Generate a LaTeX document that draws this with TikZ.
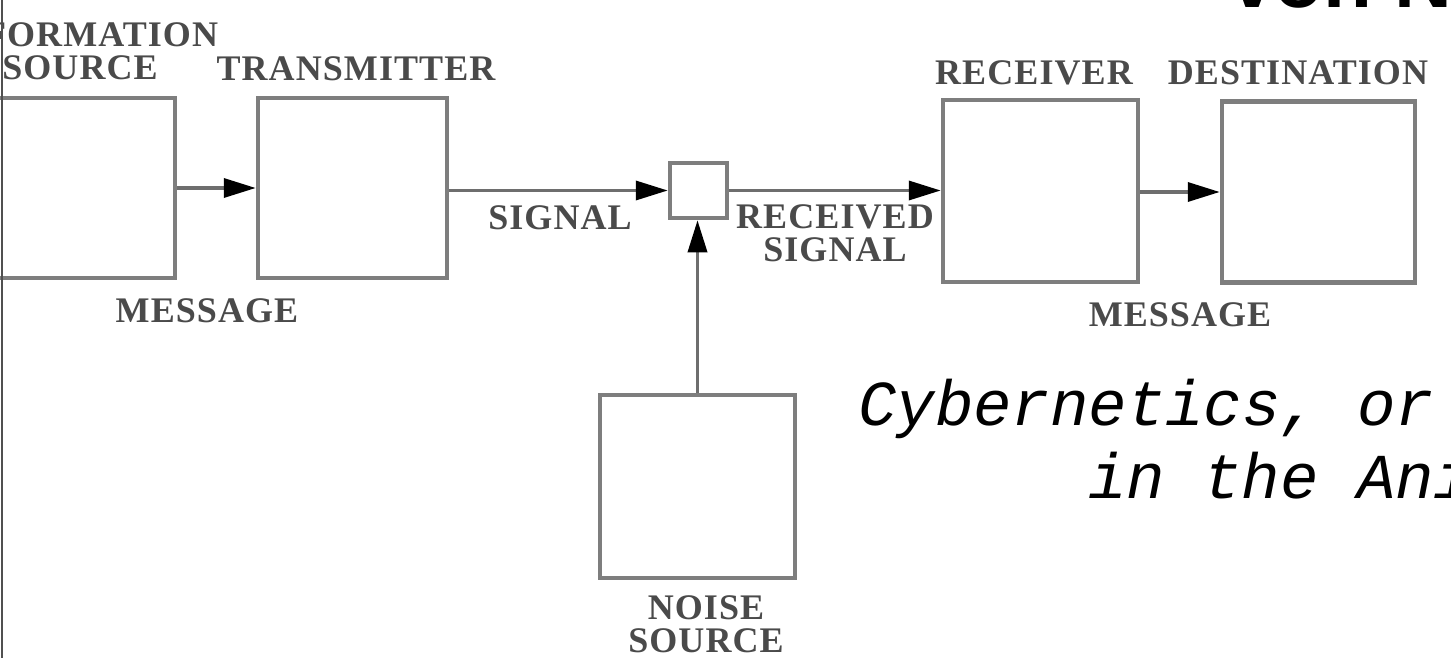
\documentclass[tikz,border=0pt]{standalone}
\usepackage{fontspec}
\setmainfont{Liberation Serif}
\newfontfamily\capfont[LetterSpace=3]{Liberation Serif}
\newfontfamily\monofont{Liberation Mono}
\newfontfamily\headfont{Liberation Sans}
\usetikzlibrary{arrows.meta}

\definecolor{boxgray}{HTML}{7E7E7E}
\definecolor{linegray}{HTML}{6E6E6E}
\definecolor{labelgray}{HTML}{4A4A4A}
\definecolor{framegray}{HTML}{505050}

\tikzset{
  block/.style={draw=boxgray, line width=4.5pt, inner sep=0pt, fill=white},
  conn/.style={draw=linegray, line width=3.5pt,
    -{Triangle[length=32pt, width=19pt, color=black]}},
  lbl/.style={text=labelgray, inner sep=0pt, align=center,
    font={\capfont\bfseries\fontsize{36}{33}\selectfont}},
  caption/.style={anchor=base west, inner sep=0pt,
    font={\monofont\itshape\fontsize{64}{64}\selectfont}},
}

\begin{document}
\begin{tikzpicture}[x=1pt, y=-1pt]
  \useasboundingbox (0,0) rectangle (1451,658);
  \fill[white] (0,0) rectangle (1451,658);

  % heading, mostly above the page
  \node[anchor=base west, inner sep=0pt,
        font={\headfont\bfseries\fontsize{80}{80}\selectfont}]
        (head) at (1230,8) {von Neumann};

  % blocks
  \node[block, minimum width=190pt, minimum height=180pt] (src)   at (80,188) {};
  \node[block, minimum width=189pt, minimum height=180pt] (tx)    at (352.5,188) {};
  \node[block, minimum width=57pt,  minimum height=55pt]  (mix)   at (698.5,190.5) {};
  \node[block, minimum width=195pt, minimum height=182pt] (rx)    at (1040.5,191) {};
  \node[block, minimum width=193pt, minimum height=181pt] (dst)   at (1318.5,192) {};
  \node[block, minimum width=195pt, minimum height=183pt] (noise) at (697.5,486.5) {};

  % connectors
  \draw[conn] (src.east) -- (tx.west);
  \draw[conn] (tx.east |- mix.west) -- (mix.west);
  \draw[conn] (mix.east) -- (rx.west |- mix.east);
  \draw[conn] (rx.east |- dst.west) -- (dst.west);
  \draw[conn] (noise.north) -- (noise.north |- mix.south);

  % labels
  \node[lbl] (lsrc)   at (80,51)      {INFORMATION\\SOURCE};
  \node[lbl] (ltx)    at (356,68.5)   {TRANSMITTER};
  \node[lbl] (lrx)    at (1034,73)    {RECEIVER};
  \node[lbl] (ldst)   at (1298,73)    {DESTINATION};
  \node[lbl] (lsig)   at (560,218)    {SIGNAL};
  \node[lbl] (lrsig)  at (835,233.5)  {RECEIVED\\SIGNAL};
  \node[lbl] (lmsg1)  at (207,311)    {MESSAGE};
  \node[lbl] (lmsg2)  at (1180,315)   {MESSAGE};
  \node[lbl] (lnoise) at (706,624)    {NOISE\\SOURCE};

  % caption
  \node[caption] (cap1) at (858,425)  {Cybernetics, or};
  \node[caption] (cap2) at (1088,498) {in the Ani};

  % page edge rule on the left, over everything
  \draw[line width=2pt, framegray] (1.5,0) -- (1.5,658);
\end{tikzpicture}
\end{document}
